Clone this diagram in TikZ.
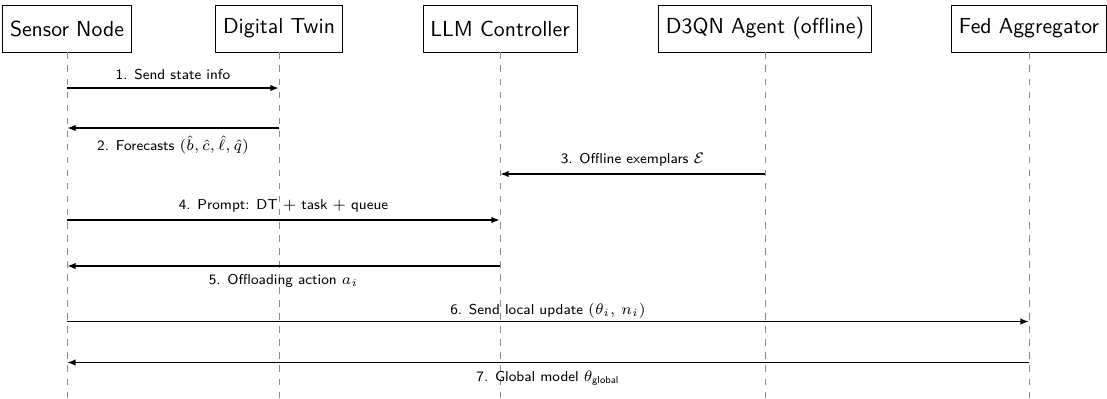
\documentclass[tikz,border=0pt]{standalone}
\usepackage{amsmath}
\usepackage{tikz}
\usetikzlibrary{arrows.meta}
\renewcommand{\familydefault}{\sfdefault}
\definecolor{lifegray}{HTML}{8c8c8c}

\begin{document}
\begin{tikzpicture}[x=0.46pt, y=-0.46pt,
    actor/.style={draw, rectangle, minimum height=21.6pt, font=\normalsize},
    lifeline/.style={dashed, lifegray, thin},
    msg/.style={-{Latex[length=4pt, width=3pt]}, thick},
    lbl/.style={font=\fontsize{6.6}{8}\selectfont}]
  \useasboundingbox (0,0) rectangle (1107,398);

  % Participants
  \node[actor] (sensor) at (67,28.5)  {Sensor Node};
  \node[actor] (twin)   at (279,28.5) {Digital Twin};
  \node[actor] (llm)    at (500,28.5) {LLM Controller};
  \node[actor] (agent)  at (765,28.5) {D3QN Agent (offline)};
  \node[actor] (fed)    at (1029,28.5) {Fed Aggregator};

  % Lifelines
  \coordinate (bottom) at (0,398);
  \foreach \p in {sensor, twin, llm, agent, fed}
    \draw[lifeline] (\p.south) -- (\p |- bottom);

  % Message rows
  \coordinate (m1) at (0,88);
  \coordinate (m2) at (0,128);
  \coordinate (m3) at (0,174);
  \coordinate (m4) at (0,220);
  \coordinate (m5) at (0,266);
  \coordinate (m6) at (0,321.5);
  \coordinate (m7) at (0,362.5);

  % Messages
  \draw[msg] (sensor |- m1) -- (twin |- m1)
    node[lbl, midway, above] {1. Send state info};
  \draw[msg] (twin |- m2) -- (sensor |- m2)
    node[lbl, midway, below] {2. Forecasts $(\hat{b}, \hat{c}, \hat{\ell}, \hat{q})$};
  \draw[msg] (agent |- m3) -- (llm |- m3)
    node[lbl, midway, above] {3. Offline exemplars $\mathcal{E}$};
  \draw[msg] (sensor |- m4) -- (llm |- m4)
    node[lbl, midway, above] {4. Prompt: DT $+$ task $+$ queue};
  \draw[msg] (llm |- m5) -- (sensor |- m5)
    node[lbl, midway, below] {5. Offloading action $a_i$};
  \draw[msg] (sensor |- m6) -- (fed |- m6)
    node[lbl, midway, above, inner sep=1pt] {6. Send local update $(\theta_i,\, n_i)$};
  \draw[msg] (fed |- m7) -- (sensor |- m7)
    node[lbl, midway, below] {7. Global model $\theta_{\text{global}}$};
\end{tikzpicture}
\end{document}
